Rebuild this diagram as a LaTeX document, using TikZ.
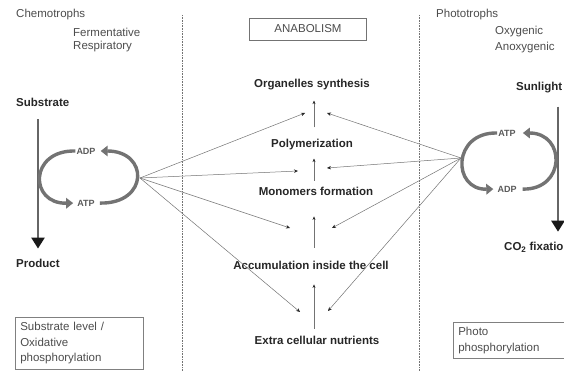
\documentclass[tikz,border=0pt]{standalone}
\usepackage{fontspec}
\setmainfont{Liberation Sans}
\usetikzlibrary{arrows.meta,positioning,calc}

\tikzset{
    txt/.style={font=\fontsize{11.5}{13}\selectfont, text=black!70, inner sep=1pt},
    btxt/.style={font=\fontsize{11.5}{13}\selectfont\bfseries, text=black!85, inner sep=1pt},
    nrg/.style={font=\fontsize{9}{10}\selectfont\bfseries, text=black!65, inner sep=1pt},
    fan/.style={draw=black!55, line width=0.5pt, -{Stealth[length=4pt,width=3.5pt,color=black!85]}},
    upar/.style={draw=black!55, line width=0.5pt, -{Stealth[length=3.5pt,width=3pt,color=black!85]}},
    cyc/.style={draw=black!55, line width=3.4pt, -{Triangle[length=7pt,width=10.5pt]}},
    flow/.style={draw=black!60, line width=2.4pt, -{Triangle[length=11pt,width=13pt,color=black!90]}},
    divider/.style={draw=black!55, densely dotted, line width=0.6pt},
    infobox/.style={draw=black!50, line width=0.6pt, align=left, anchor=north west, inner sep=5pt,
        font=\fontsize{11.5}{15.5}\selectfont, text=black!70}
}

\begin{document}
\begin{tikzpicture}[x=1pt,y=-1pt]
    \useasboundingbox (0,0) rectangle (564,371);

    \draw[divider] (182,15) -- (182,371);
    \draw[divider] (419,15) -- (419,371);

    % chemotrophs
    \node[txt, anchor=west] (chemo) at (15,15) {Chemotrophs};
    \node[txt, anchor=west] (ferm) at (72,32) {Fermentative};
    \node[txt, anchor=west] (resp) at (72,47) {Respiratory};
    \node[btxt, anchor=west] (subs) at (15,102) {Substrate};
    \node[btxt, anchor=west] (prod) at (15,263) {Product};
    \coordinate (laxis) at (38,0);
    \draw[flow, shorten <=12pt, shorten >=9pt] (subs.south -| laxis) -- (prod.north -| laxis);

    \node[nrg] (adpl) at (86,151) {ADP};
    \node[nrg] (atpl) at (86,203) {ATP};
    \draw[cyc, shorten >=3pt] (adpl.west) .. controls (29,150) and (29,204) .. (atpl.west);
    \draw[cyc, shorten <=4pt, shorten >=4pt] (atpl.east) .. controls (149,204) and (149,151) .. (adpl.east);
    \coordinate (lhub) at (140,178);

    % phototrophs
    \node[txt, anchor=west] (photo) at (435,15) {Phototrophs};
    \node[txt, anchor=west] (oxy) at (494,32) {Oxygenic};
    \node[txt, anchor=west] (anox) at (494,48) {Anoxygenic};
    \node[btxt, anchor=west] (sun) at (515,88) {Sunlight};
    \node[btxt, anchor=west] (co2) at (503,247) {CO\textsubscript{2} fixation};
    \coordinate (raxis) at (558,0);
    \draw[flow, shorten <=12pt, shorten >=9pt] (sun.south -| raxis) -- (co2.north -| raxis);

    \node[nrg] (atpr) at (507,133) {ATP};
    \node[nrg] (adpr) at (507,189) {ADP};
    \draw[cyc, shorten >=3pt] (atpr.west) .. controls (452,132) and (452,190) .. (adpr.west);
    \draw[cyc, shorten <=5pt, shorten >=6pt] (adpr.east) .. controls (566,190) and (566,133) .. (atpr.east);
    \coordinate (rhub) at (461,158);

    % anabolism
    \node[txt, draw=black!55, minimum width=117pt, minimum height=22pt] (anab) at (308,29) {ANABOLISM};
    \node[btxt] (org) at (312,85) {Organelles synthesis};
    \node[btxt] (poly) at (312,145) {Polymerization};
    \node[btxt] (mono) at (316,191) {Monomers formation};
    \node[btxt] (accu) at (311,265) {Accumulation inside the cell};
    \node[btxt] (extra) at (317,340) {Extra cellular nutrients};

    \coordinate (axis) at (314,0);
    \draw[upar, shorten <=6pt, shorten >=14pt] (extra.north -| axis) -- (accu.south -| axis);
    \draw[upar, shorten <=12pt, shorten >=20pt] (accu.north -| axis) -- (mono.south -| axis);
    \draw[upar, shorten <=5pt, shorten >=7pt] (mono.north -| axis) -- (poly.south -| axis);
    \draw[upar, shorten <=11pt, shorten >=9pt] (poly.north -| axis) -- (org.south -| axis);

    \coordinate (l1) at (305,113);
    \coordinate (l2) at (298,171);
    \coordinate (l3) at (290,228);
    \coordinate (l4) at (300,312);
    \coordinate (r1) at (327,113);
    \coordinate (r2) at (327,168);
    \coordinate (r3) at (332,228);
    \coordinate (r4) at (328,311);
    \foreach \i in {1,...,4} {
        \draw[fan] (lhub) -- (l\i);
        \draw[fan] (rhub) -- (r\i);
    }

    \node[infobox, minimum width=128pt, minimum height=52pt, text width=118pt] (slbox) at (15,317)
        {Substrate level /\\Oxidative\\phosphorylation};
    \node[infobox, minimum width=140pt, minimum height=36pt, text width=130pt] (phbox) at (453,322)
        {Photo\\phosphorylation};
\end{tikzpicture}
\end{document}
